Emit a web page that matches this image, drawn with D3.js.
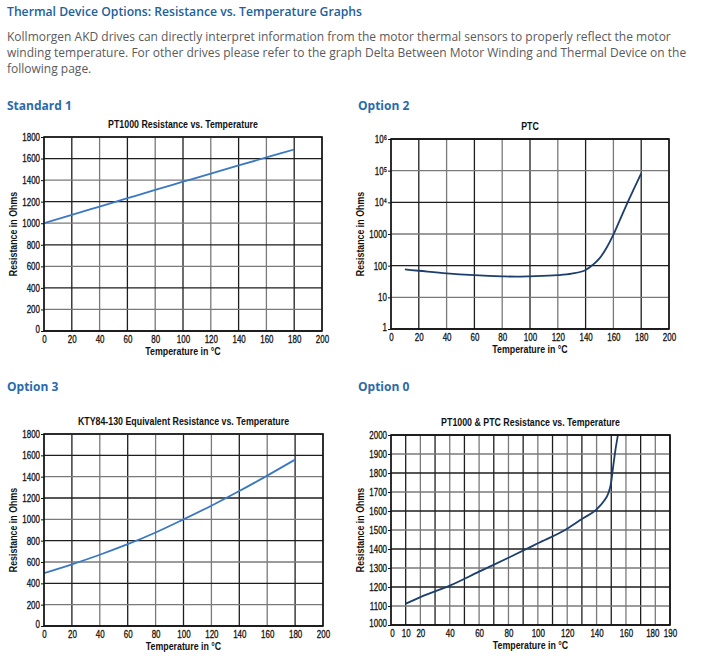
<!DOCTYPE html>
<html>
<head>
<meta charset="utf-8">
<script src="https://cdn.jsdelivr.net/npm/d3@7"></script>
<style>
  body { margin: 0; background: #fff; }
  svg { display: block; }
  .hdr { font-family: "Open Sans", sans-serif; }
  .chart text { font-family: "Liberation Sans", Arial, sans-serif; fill: #111; }
  .chart .num { stroke: #111; stroke-width: 0.3; }
</style>
</head>
<body>
<svg id="page" width="714" height="672"></svg>
<script>
// ---- data ----
var bodyLines = [
  "Kollmorgen AKD drives can directly interpret information from the motor thermal sensors to properly reflect the motor",
  "winding temperature. For other drives please refer to the graph Delta Between Motor Winding and Thermal Device on the",
  "following page."
]

var tempTicks = [0, 20, 40, 60, 80, 100, 120, 140, 160, 180, 200]
var linearOhmTicks = [0, 200, 400, 600, 800, 1000, 1200, 1400, 1600, 1800]

// Standard 1 - PT1000
var pt1000Temp = [0, 20, 40, 60, 80, 100, 120, 140, 160, 180]
var pt1000Ohms = [1000, 1078, 1155, 1232, 1309, 1385, 1461, 1536, 1610, 1684]

// Option 2 - PTC (log scale)
var ptcTemp = [10, 20, 40, 60, 80, 90, 100, 120, 130, 140, 145, 150, 155, 160, 165, 170, 175, 180]
var ptcOhms = [76, 69, 57, 50, 46, 45, 46, 50, 56, 73, 105, 170, 360, 950, 3000, 9500, 28000, 82000]
var logOhmTicks = [1, 10, 100, 1000, 1e4, 1e5, 1e6]
var logOhmLabels = ["1", "10", "100", "1000", "10\u2074", "10\u2075", "10\u2076"]

// Option 3 - KTY84-130
var ktyTemp = [0, 20, 40, 60, 80, 100, 120, 140, 160, 180]
var ktyOhms = [495, 578, 668, 767, 877, 1000, 1128, 1265, 1410, 1560]

// Option 0 - PT1000 & PTC
var comboTemp = [10, 20, 40, 60, 80, 100, 120, 130, 140, 145, 148, 150, 151, 153, 154.5, 156]
var comboOhms = [1112, 1147, 1207, 1281, 1354, 1430, 1507, 1558, 1609, 1653, 1693, 1754, 1816, 1930, 2000, 2100]
var comboGridTemp = [0, 10, 20, 30, 40, 50, 60, 70, 80, 90, 100, 110, 120, 130, 140, 150, 160, 170, 180, 190]
var comboTempLabels = [0, 10, 20, 40, 60, 80, 100, 120, 140, 160, 180, 190]
var comboOhmTicks = [1000, 1100, 1200, 1300, 1400, 1500, 1600, 1700, 1800, 1900, 2000]

var svg = d3.select("#page")

// ---- header ----
svg.append("text").attr("class", "hdr")
  .attr("x", 7).attr("y", 16)
  .attr("font-size", 12.5).attr("font-weight", 600).attr("fill", "#215f9c")
  .attr("textLength", 355).attr("lengthAdjust", "spacingAndGlyphs")
  .text("Thermal Device Options: Resistance vs. Temperature Graphs")

svg.selectAll(".body").data(bodyLines).enter()
  .append("text").attr("class", "hdr body")
  .attr("x", 7).attr("y", function(d, i) { return 40.5 + i * 16 })
  .attr("font-size", 12).attr("fill", "#5a5a5c")
  .text(function(d) { return d })

var sections = [["Standard 1", 7, 110], ["Option 2", 358, 110], ["Option 3", 7, 391], ["Option 0", 358, 391]]
svg.selectAll(".sec").data(sections).enter()
  .append("text").attr("class", "hdr sec")
  .attr("x", function(d) { return d[1] }).attr("y", function(d) { return d[2] })
  .attr("font-size", 12).attr("font-weight", 700).attr("fill", "#2a6aab")
  .text(function(d) { return d[0] })

var gridColor = function(i) { return i % 2 == 0 ? "#7a7a7a" : "#1e1e1e" }

// squeeze text to look like a condensed face
var condense = function(sel, k)
{
    sel.each(function() {
        var len = this.getComputedTextLength()
        if (len > 0) d3.select(this).attr("textLength", len * k).attr("lengthAdjust", "spacingAndGlyphs")
    })
}

var drawChart = function(opt)
{
    var w = opt.right - opt.left
    var h = opt.bottom - opt.top
    var g = svg.append("g").attr("class", "chart")
        .attr("transform", "translate(" + opt.left + "," + opt.top + ")")

    var xScale = d3.scaleLinear().domain(opt.xDomain).range([0, w])
    var yScale = opt.log
        ? d3.scaleLog().domain(opt.yDomain).range([h, 0])
        : d3.scaleLinear().domain(opt.yDomain).range([h, 0])

    // grid
    g.append("g").selectAll("line").data(opt.xGrid).enter().append("line")
        .attr("x1", function(d) { return xScale(d) }).attr("x2", function(d) { return xScale(d) })
        .attr("y1", 0).attr("y2", h)
        .attr("stroke", function(d, i) { return gridColor(i) }).attr("stroke-width", 1.3)
    g.append("g").selectAll("line").data(opt.yTicks).enter().append("line")
        .attr("x1", 0).attr("x2", w)
        .attr("y1", function(d) { return yScale(d) }).attr("y2", function(d) { return yScale(d) })
        .attr("stroke", function(d, i) { return gridColor(i + 1) }).attr("stroke-width", 1.3)

    // curve
    var pts = opt.temp.map(function(t, i) { return [t, opt.ohms[i]] })
    g.append("clipPath").attr("id", "clip" + opt.id)
        .append("rect").attr("width", w).attr("height", h)
    g.append("path").datum(pts)
        .attr("clip-path", "url(#clip" + opt.id + ")")
        .attr("fill", "none").attr("stroke", opt.color).attr("stroke-width", 1.8)
        .attr("d", d3.line()
            .x(function(d) { return xScale(d[0]) })
            .y(function(d) { return yScale(d[1]) })
            .curve(d3.curveMonotoneX))

    // frame
    g.append("rect").attr("width", w).attr("height", h)
        .attr("fill", "none").attr("stroke", "#111").attr("stroke-width", 1.6)

    // y axis
    var yAxis = d3.axisLeft(yScale).tickValues(opt.yTicks).tickSize(3).tickPadding(4)
        .tickFormat(function(d, i) { return opt.log ? logOhmLabels[i] : d })
    var ya = g.append("g").call(yAxis)
    ya.select(".domain").remove()
    ya.selectAll(".tick line").attr("stroke", "#111")
    ya.selectAll(".tick text").attr("class", "num").attr("x", -4)
        .attr("font-size", 10.5).attr("fill", "#111")
        .attr("font-family", "Liberation Sans, Arial, sans-serif")
    // lift the bottom label a touch so it clears the first x label
    ya.selectAll(".tick text").filter(function(d, i) { return i == 0 }).attr("dy", "0.1em")

    // x axis labels
    var xAxis = d3.axisBottom(xScale).tickValues(opt.xLabels).tickSize(0).tickPadding(5)
    var xa = g.append("g").attr("transform", "translate(0," + h + ")").call(xAxis)
    xa.select(".domain").remove()
    xa.selectAll("text").attr("class", "num").attr("font-size", 10.5).attr("fill", "#111")
        .attr("font-family", "Liberation Sans, Arial, sans-serif")
    if (opt.id == 4) {
        xa.selectAll(".tick text").filter(function(d) { return d == 180 }).attr("dx", -3)
        xa.selectAll(".tick text").filter(function(d) { return d == 0 }).attr("dx", 1)
    }
    condense(g.selectAll("text.num"), 0.76)

    // titles
    var titles = g.append("g")
    titles.append("text").attr("x", w / 2).attr("y", -9)
        .attr("text-anchor", "middle").attr("font-size", 10.5).attr("font-weight", "bold")
        .text(opt.title)
    titles.append("text").attr("x", w / 2).attr("y", h + 24)
        .attr("text-anchor", "middle").attr("font-size", 10.5).attr("font-weight", "bold")
        .text("Temperature in °C")
    titles.append("text")
        .attr("transform", "translate(-27," + (h / 2) + ") rotate(-90)")
        .attr("text-anchor", "middle").attr("font-size", 10.5).attr("font-weight", "bold")
        .text("Resistance in Ohms")
    condense(titles.selectAll("text"), 0.84)
}

drawChart({id: 1, left: 44, right: 322, top: 137, bottom: 331,
    title: "PT1000 Resistance vs. Temperature", color: "#3b78c3",
    xDomain: [0, 200], yDomain: [0, 1800], xGrid: tempTicks, xLabels: tempTicks,
    yTicks: linearOhmTicks, temp: pt1000Temp, ohms: pt1000Ohms})

drawChart({id: 2, left: 391, right: 669, top: 139, bottom: 329, log: true,
    title: "PTC", color: "#1c3e6d",
    xDomain: [0, 200], yDomain: [1, 1e6], xGrid: tempTicks, xLabels: tempTicks,
    yTicks: logOhmTicks, temp: ptcTemp, ohms: ptcOhms})

drawChart({id: 3, left: 44, right: 323, top: 434, bottom: 626,
    title: "KTY84-130 Equivalent Resistance vs. Temperature", color: "#3b78c3",
    xDomain: [0, 200], yDomain: [0, 1800], xGrid: tempTicks, xLabels: tempTicks,
    yTicks: linearOhmTicks, temp: ktyTemp, ohms: ktyOhms})

drawChart({id: 4, left: 391, right: 670, top: 435, bottom: 625,
    title: "PT1000 & PTC Resistance vs. Temperature", color: "#1c3e6d",
    xDomain: [0, 190], yDomain: [1000, 2000], xGrid: comboGridTemp, xLabels: comboTempLabels,
    yTicks: comboOhmTicks, temp: comboTemp, ohms: comboOhms})
</script>
</body>
</html>
